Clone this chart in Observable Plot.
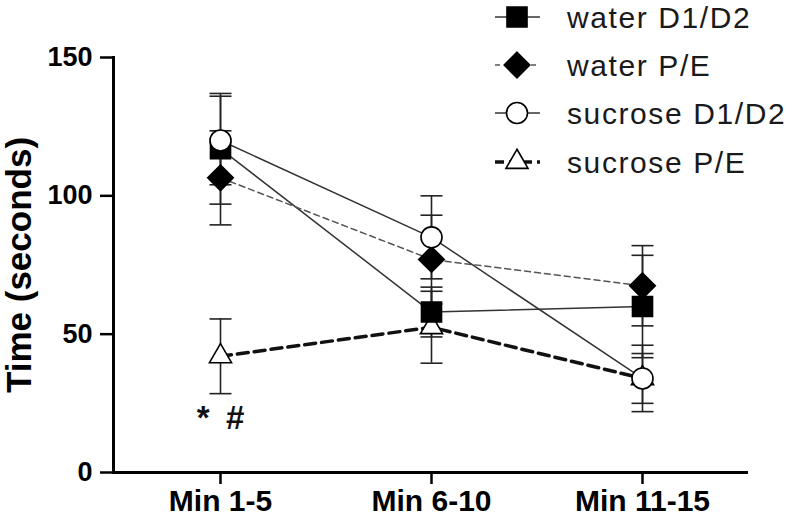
<!DOCTYPE html>
<html><head><meta charset="utf-8">
<script src="https://cdn.jsdelivr.net/npm/d3@7"></script>
<script src="https://cdn.jsdelivr.net/npm/@observablehq/plot@0.6"></script>
<style>
body{margin:0;background:#fff;}
#wrap{position:relative;width:800px;height:520px;font-family:"Liberation Sans",Arial,sans-serif;}
#legend{position:absolute;left:0;top:0;}
</style></head><body><div id="wrap"></div>
<script>
const categories = ["Min 1-5", "Min 6-10", "Min 11-15"];
const seriesNames = ["water D1/D2", "water P/E", "sucrose D1/D2", "sucrose P/E"];
const waterD1D2 = [117, 58, 60];
const waterD1D2Err = [20, 9, 18.5];
const waterPE = [106.5, 77, 67.5];
const waterPEErr = [17, 16, 14.5];
const sucroseD1D2 = [120, 85, 34];
const sucroseD1D2Err = [16, 15, 12];
const sucrosePE = [42, 52.5, 34];
const sucrosePEErr = [13.5, 13, 9];
const yTicks = [0, 50, 100, 150];
const annotations = [{cat: "Min 1-5", value: 19.5, label: "*\u2002#"}];

const values = [waterD1D2, waterPE, sucroseD1D2, sucrosePE];
const errors = [waterD1D2Err, waterPEErr, sucroseD1D2Err, sucrosePEErr];
const rows = [];
seriesNames.forEach((s, si) => categories.forEach((c, ci) => rows.push({series: s, cat: c, value: values[si][ci], err: errors[si][ci]})));

const styles = {
  "water D1/D2": {symbol: "square", r: 11.3, fill: "#000", line: "#333", sw: 1.5, dash: null},
  "water P/E": {symbol: "diamond2", r: 11.5, fill: "#000", line: "#555", sw: 1.5, dash: "6,4"},
  "sucrose D1/D2": {symbol: "circle", r: 10.5, fill: "#fff", line: "#333", sw: 1.5, dash: null},
  "sucrose P/E": {symbol: "triangle", r: 8.2, fill: "#fff", line: "#111", sw: 3.5, dash: "11,6"}
};
const drawOrder = ["sucrose P/E", "water D1/D2", "water P/E", "sucrose D1/D2"];

// horizontal cap symbol for error bars
const capSymbol = {draw(context, size) { const w = Math.sqrt(size / Math.PI); context.moveTo(-w, 0); context.lineTo(w, 0); }};

const marks = [];
for (const s of drawOrder) {
  const st = styles[s];
  marks.push(Plot.line(rows.filter(d => d.series === s), {x: "cat", y: "value", stroke: st.line, strokeWidth: st.sw, strokeDasharray: st.dash}));
}
marks.push(Plot.ruleX(rows, {x: "cat", y1: d => d.value - d.err, y2: d => d.value + d.err, stroke: "#222", strokeWidth: 1.6}));
marks.push(Plot.dot(rows, {x: "cat", y: d => d.value - d.err, symbol: capSymbol, r: 11, fill: "none", stroke: "#222", strokeWidth: 1.6}));
marks.push(Plot.dot(rows, {x: "cat", y: d => d.value + d.err, symbol: capSymbol, r: 11, fill: "none", stroke: "#222", strokeWidth: 1.6}));
for (const s of drawOrder) {
  const st = styles[s];
  marks.push(Plot.dot(rows.filter(d => d.series === s), {x: "cat", y: "value", symbol: st.symbol, r: st.r, fill: st.fill, stroke: "#000", strokeWidth: 1.6}));
}
marks.push(Plot.text(annotations, {x: "cat", y: "value", text: "label", fontSize: 33, fontWeight: "bold", fill: "#111"}));
marks.push(Plot.axisX({tickSize: 12, tickPadding: 5, fontSize: 30, fontWeight: "bold", strokeWidth: 2.5, label: null}));
marks.push(Plot.axisY({ticks: yTicks, tickSize: 13, tickPadding: 8, fontSize: 27, fontWeight: "bold", strokeWidth: 2.5, label: null}));
marks.push(Plot.ruleY([0], {stroke: "#000", strokeWidth: 3}));
marks.push(Plot.text(["Time (seconds)"], {frameAnchor: "left", dx: -94, rotate: -90, textAnchor: "middle", fontSize: 35, fontWeight: "bold", fill: "#000"}));

const chart = Plot.plot({
  width: 800, height: 520,
  marginLeft: 113, marginRight: 52, marginTop: 57, marginBottom: 48,
  style: {fontFamily: "'Liberation Sans', Arial, sans-serif", color: "#000", background: "#fff", overflow: "visible"},
  x: {type: "point", domain: categories, padding: 0.5, axis: null},
  y: {domain: [0, 150], axis: null},
  marks: [...marks, Plot.frame({anchor: "left", stroke: "#000", strokeWidth: 3})]
});
document.getElementById("wrap").appendChild(chart);

// legend
const lg = d3.select("#wrap").append("svg").attr("id", "legend").attr("width", 800).attr("height", 190);
const rowY = [17, 65, 113, 162];
const symMap = {square: d3.symbolSquare, diamond2: d3.symbolDiamond2, circle: d3.symbolCircle, triangle: d3.symbolTriangle};
seriesNames.forEach((s, i) => {
  const st = styles[s];
  const g = lg.append("g").attr("transform", `translate(0,${rowY[i]})`);
  g.append("line").attr("x1", 495).attr("x2", 540).attr("y1", 0).attr("y2", 0)
    .attr("stroke", st.line).attr("stroke-width", st.sw).attr("stroke-dasharray", st.dash ? (st.sw > 2 ? "9,5" : "5,4") : null);
  g.append("path").attr("transform", "translate(517,0)")
    .attr("d", d3.symbol(symMap[st.symbol], st.r * st.r * Math.PI)())
    .attr("fill", st.fill).attr("stroke", "#000").attr("stroke-width", 1.6);
  g.append("text").attr("x", 567).attr("y", 0).attr("dy", "0.35em")
    .attr("font-size", 30).attr("letter-spacing", "1.6px").attr("fill", "#1a1a1a")
    .attr("font-family", "'Liberation Sans', Arial, sans-serif").text(s);
});
</script></body></html>
